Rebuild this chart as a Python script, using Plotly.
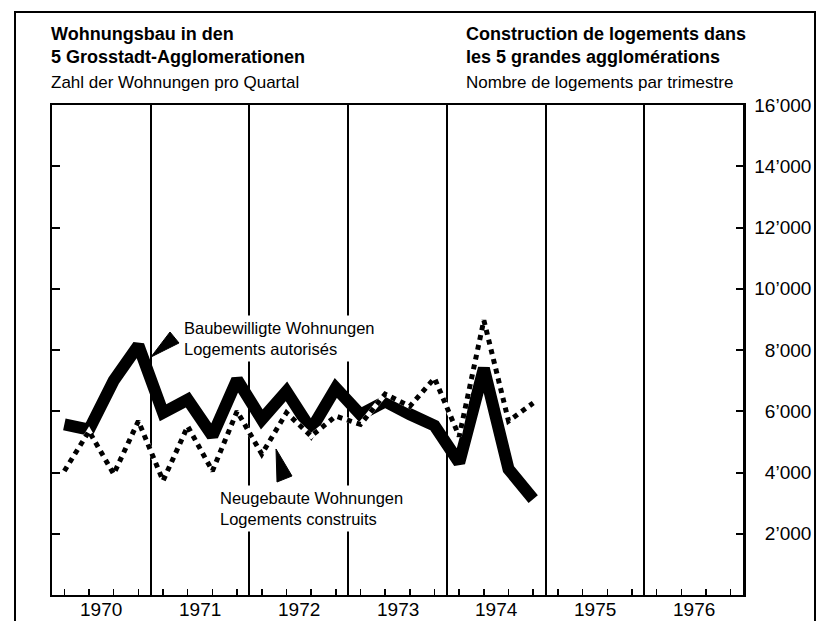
import plotly.graph_objects as go

# ---- data (quarterly, 1970 Q1 - 1974 Q4) ----
years = [1970, 1971, 1972, 1973, 1974, 1975, 1976]
quarters = [1, 2, 3, 4]
authorised_years = [1970, 1971, 1972, 1973, 1974]
# Baubewilligte Wohnungen / Logements autorisés
authorised = [5570, 5400, 7000, 8150,
              5950, 6380, 5200, 7030,
              5730, 6650, 5400, 6760,
              5890, 6320, 5900, 5530,
              4320, 7400, 4110, 3130]
# Neugebaute Wohnungen / Logements construits
built = [4050, 5350, 3950, 5680,
         3730, 5510, 4050, 6000,
         4600, 5950, 5190, 5840,
         5570, 6560, 6160, 7080,
         5180, 8970, 5680, 6270]
y_ticks = [2000, 4000, 6000, 8000, 10000, 12000, 14000, 16000]
y_tick_labels = ["2’000", "4’000", "6’000", "8’000", "10’000", "12’000", "14’000", "16’000"]
year_labels = [str(y) for y in years]

# quarter positions on a numeric year axis (quarter mid-points)
def qpos(y, q):
    return y + (q - 0.5) / 4.0

x_series = [qpos(y, q) for y in authorised_years for q in quarters]
quarter_ticks = [qpos(y, q) for y in years for q in quarters]

FONT = "Liberation Sans, Arial, Helvetica, sans-serif"
W, H = 818, 621
L, R, T, B = 52, 743, 105, 595

def px(x):
    return (x - L) / (R - L)

def py(y):
    return (B - y) / (B - T)

fig = go.Figure()
fig.add_trace(go.Scatter(x=x_series, y=authorised, mode="lines",
                         line=dict(color="black", width=12),
                         hoverinfo="skip", showlegend=False))
fig.add_trace(go.Scatter(x=x_series, y=built, mode="lines",
                         line=dict(color="white", width=5),
                         xaxis="x2", yaxis="y2",
                         hoverinfo="skip", showlegend=False))
fig.add_trace(go.Scatter(x=x_series, y=built, mode="lines",
                         line=dict(color="black", width=5, dash="5px,5px"),
                         xaxis="x2", yaxis="y2",
                         hoverinfo="skip", showlegend=False))

# pad single-digit-thousand labels with figure spaces so they right-align
maxlen = max(len(t) for t in y_tick_labels)
y_tick_text = ["\u2007" * (maxlen - len(t)) + t for t in y_tick_labels]

fig.update_layout(
    width=W, height=H,
    margin=dict(l=L, r=W - R, t=T, b=H - B, autoexpand=False),
    paper_bgcolor="white", plot_bgcolor="white",
    font=dict(family=FONT, color="black"),
    showlegend=False,
    xaxis=dict(range=[years[0], years[-1] + 1], automargin=False,
               tickmode="array", tickvals=years[1:],
               ticks="", showticklabels=False,
               showgrid=True, gridcolor="black", gridwidth=2,
               zeroline=False,
               showline=True, mirror=True, linecolor="black", linewidth=2),
    xaxis2=dict(range=[years[0], years[-1] + 1], overlaying="x", anchor="y2",
                automargin=False,
                side="bottom", tickmode="array", tickvals=quarter_ticks,
                ticks="inside", ticklen=6, tickwidth=1.5, tickcolor="black",
                showticklabels=False, showgrid=False, zeroline=False,
                showline=False),
    yaxis=dict(range=[0, 16000], tickmode="array", tickvals=y_ticks[:-1],
               automargin=False,
               ticks="inside", ticklen=8, tickwidth=2, tickcolor="black",
               showticklabels=False, showgrid=False, zeroline=False,
               showline=True, linecolor="black", linewidth=2),
    yaxis2=dict(range=[0, 16000], overlaying="y", anchor="x2", side="right",
                automargin=False,
                tickmode="array", tickvals=y_ticks, ticktext=y_tick_text,
                ticks="inside", ticklen=7, tickwidth=2, tickcolor="black",
                tickfont=dict(size=19, family=FONT, color="black"),
                ticklabelstandoff=5,
                showgrid=False, zeroline=False,
                showline=True, linecolor="black", linewidth=2.5),
)

# year labels, centred in each year on the x scale
for yv, lab in zip(years, year_labels):
    fig.add_annotation(text=lab, xref="x", yref="paper", x=yv + 0.5,
                       y=py(609), xanchor="center", yanchor="middle",
                       showarrow=False, borderpad=0,
                       font=dict(size=19, family=FONT, color="black"))

# outer frame
fig.add_shape(type="rect", xref="paper", yref="paper",
              x0=px(15), x1=px(815), y0=py(650), y1=py(12),
              line=dict(color="black", width=2), fillcolor="rgba(0,0,0,0)")

def tri(points):
    p = " L ".join(f"{px(x):.5f},{py(y):.5f}" for x, y in points)
    return "M " + p + " Z"

# pointer wedges
fig.add_shape(type="path", xref="paper", yref="paper",
              path=tri([(151, 357), (170, 332), (179, 343)]),
              fillcolor="black", line=dict(color="black", width=1))
fig.add_shape(type="path", xref="paper", yref="paper",
              path=tri([(276, 449), (277, 482), (292, 476)]),
              fillcolor="black", line=dict(color="black", width=1))

def note(text, x, y, size, bold=False, bg=None, pad=1):
    fig.add_annotation(text=("<b>" + text + "</b>") if bold else text,
                       xref="paper", yref="paper", x=px(x), y=py(y),
                       xanchor="left", yanchor="middle", align="left",
                       showarrow=False, bgcolor=bg, borderpad=pad,
                       font=dict(size=size, family=FONT, color="black"))

note("Wohnungsbau in den", 49, 34, 18, bold=True)
note("5 Grosstadt-Agglomerationen", 49, 57, 18, bold=True)
note("Zahl der Wohnungen pro Quartal", 49, 82, 17)
note("Construction de logements dans", 464, 34, 18, bold=True)
note("les 5 grandes agglomérations", 464, 57, 18, bold=True)
note("Nombre de logements par trimestre", 464, 82, 17)

note("Baubewilligte Wohnungen<br>Logements autorisés", 180, 338, 16.5,
     bg="white", pad=3)
note("Neugebaute Wohnungen<br>Logements construits", 216, 508, 16.5,
     bg="white", pad=3)

fig.write_html("out.html",
               config={"displayModeBar": False, "staticPlot": True},
               post_script="document.body.style.margin='0';"
                           "document.body.style.overflow='hidden';"
                           "document.documentElement.style.overflow='hidden';")
